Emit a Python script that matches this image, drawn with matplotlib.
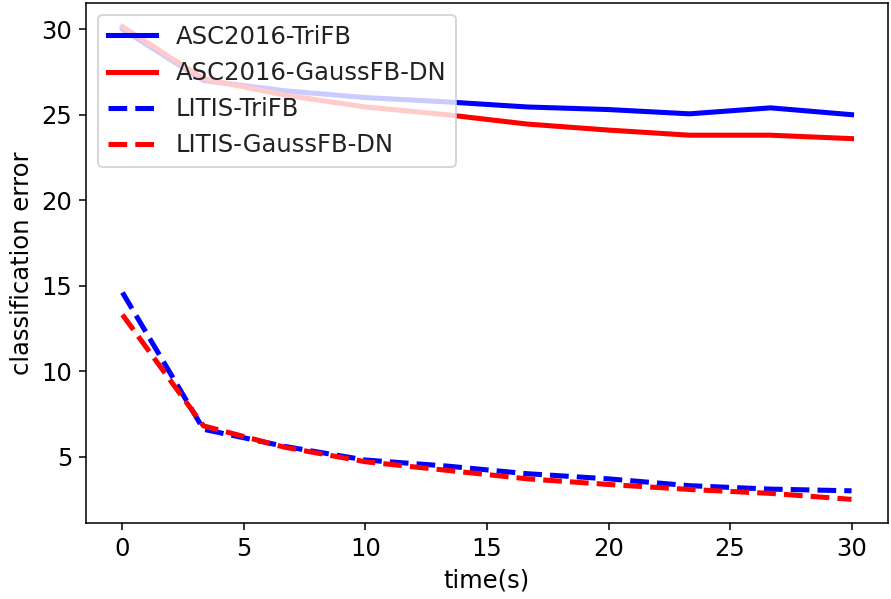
import matplotlib
matplotlib.use('Agg')
import matplotlib.pyplot as plt

# time axis (seconds) and classification error per system
time_s = [0, 10/3, 20/3, 10, 40/3, 50/3, 20, 70/3, 80/3, 30]

asc_trifb = [30.0, 27.0, 26.4, 26.0, 25.75, 25.45, 25.3, 25.05, 25.4, 25.0]
asc_gauss = [30.15, 27.1, 26.15, 25.45, 25.0, 24.45, 24.1, 23.8, 23.8, 23.6]
litis_trifb = [14.6, 6.6, 5.6, 4.8, 4.45, 4.0, 3.7, 3.3, 3.1, 3.0]
litis_gauss = [13.3, 6.8, 5.55, 4.7, 4.2, 3.7, 3.37, 3.08, 2.85, 2.5]

plt.rcParams['font.size'] = 12.5
plt.rcParams['text.color'] = '#222222'

fig = plt.figure(figsize=(892 / 140, 599 / 140), dpi=140)
ax = fig.add_axes([86 / 892, 1 - 523 / 599, (888 - 86) / 892, (523 - 3) / 599])

lw = 2.6
ax.plot(time_s, asc_trifb, color='blue', lw=lw, label='ASC2016-TriFB')
ax.plot(time_s, asc_gauss, color='red', lw=lw, label='ASC2016-GaussFB-DN')
ax.plot(time_s, litis_trifb, color='blue', lw=lw, ls='--', label='LITIS-TriFB')
ax.plot(time_s, litis_gauss, color='red', lw=lw, ls='--', label='LITIS-GaussFB-DN')

ax.set_xticks([0, 5, 10, 15, 20, 25, 30])
ax.set_yticks([5, 10, 15, 20, 25, 30])
ax.set_xlabel('time(s)')
ax.set_ylabel('classification error')
ax.legend(loc='upper left', framealpha=0.8)

fig.savefig('out.png', dpi=140)
